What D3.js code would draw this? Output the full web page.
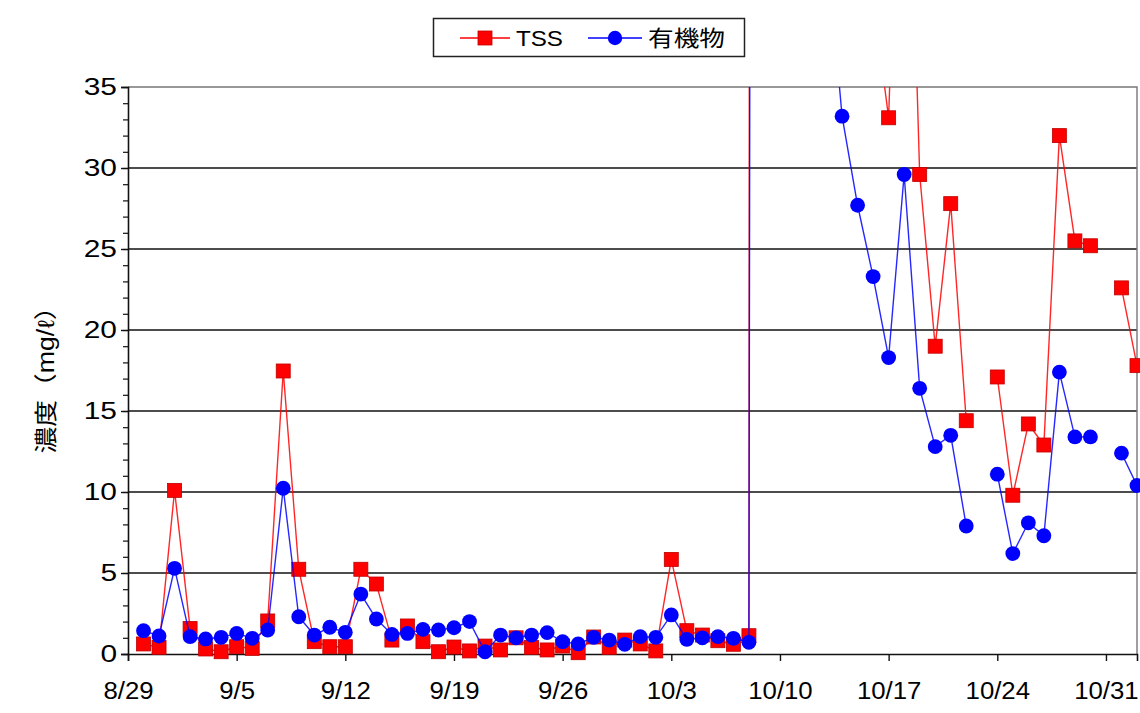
<!DOCTYPE html>
<html>
<head>
<meta charset="utf-8">
<script src="https://cdn.jsdelivr.net/npm/d3@7"></script>
<style>
  html, body { margin: 0; padding: 0; background: #fff; }
  svg { display: block; }
  text { font-family: "Liberation Sans", Arial, "Noto Sans CJK JP", sans-serif; fill: #000; }
</style>
</head>
<body>
<svg id="chart" width="1140" height="713"></svg>
<script>
// Daily sampling dates (month/day), 8/30 to 11/2
const dates = [
  "8/30","8/31","9/1","9/2","9/3","9/4","9/5","9/6","9/7","9/8",
  "9/9","9/10","9/11","9/12","9/13","9/14","9/15","9/16","9/17","9/18",
  "9/19","9/20","9/21","9/22","9/23","9/24","9/25","9/26","9/27","9/28",
  "9/29","9/30","10/1","10/2","10/3","10/4","10/5","10/6","10/7","10/8",
  "10/9","10/10","10/11","10/12","10/13","10/14","10/15","10/16","10/17","10/18",
  "10/19","10/20","10/21","10/22","10/23","10/24","10/25","10/26","10/27","10/28",
  "10/29","10/30","10/31","11/1","11/2"
];

// TSS concentration (mg/l); null = no sample
const tss = [
  0.62, 0.41, 10.1, 1.58, 0.31, 0.14, 0.45, 0.35, 2.04, 17.47,
  5.23, 0.76, 0.45, 0.45, 5.23, 4.32, 0.86, 1.73, 0.76, 0.14,
  0.43, 0.19, 0.49, 0.25, 1.0, 0.41, 0.25, 0.49, 0.08, 1.05,
  0.41, 0.86, 0.62, 0.19, 5.84, 1.44, 1.17, 0.82, 0.6, 1.13,
  1450, 820, 460, 240, 130, 85, 55, 40.5, 33.1, 62,
  29.6, 19.0, 27.8, 14.4, null, 17.1, 9.8, 14.2, 12.9, 32.0,
  25.5, 25.2, null, 22.6, 17.8
];

// Organic matter concentration (mg/l); null = no sample
const organic = [
  1.44, 1.11, 5.29, 1.07, 0.93, 1.03, 1.27, 0.97, 1.48, 10.23,
  2.3, 1.17, 1.65, 1.34, 3.7, 2.16, 1.21, 1.27, 1.52, 1.48,
  1.62, 2.0, 0.14, 1.17, 1.0, 1.17, 1.32, 0.76, 0.62, 1.03,
  0.86, 0.6, 1.07, 1.03, 2.41, 0.9, 1.0, 1.07, 0.97, 0.72,
  620, 310, 150, 80, 44, 33.2, 27.7, 23.3, 18.3, 29.6,
  16.4, 12.8, 13.5, 7.9, null, 11.1, 6.2, 8.1, 7.3, 17.4,
  13.4, 13.4, null, 12.4, 10.4
];

// Axis ticks
const xTickLabels = ["8/29","9/5","9/12","9/19","9/26","10/3","10/10","10/17","10/24","10/31"];
const yTicks = [0, 5, 10, 15, 20, 25, 30, 35];

const seriesNames = ["TSS", "有機物"];
const yTitle = "濃度（mg/ℓ）";

const YEAR = 2004;
const parseDay = s => { const [m, d] = s.split("/").map(Number); return new Date(YEAR, m - 1, d); };

const svg = d3.select("#chart");
const plotL = 128, plotR = 1137, plotT = 87, plotB = 654;
const labelColor = "#2a2a2a";

// x: date scale, 8/29 to 11/2
const x = d3.scaleTime()
  .domain([parseDay("8/29"), parseDay("11/2")])
  .range([plotL, plotR]);
const y = d3.scaleLinear().domain([0, 35]).range([plotB, plotT]);

// stretch text horizontally
function stretch(sel, f) {
  sel.each(function () {
    const w = this.getComputedTextLength();
    d3.select(this).attr("textLength", w * f).attr("lengthAdjust", "spacingAndGlyphs");
  });
}

// Horizontal grid lines
svg.append("g")
  .selectAll("line")
  .data(yTicks.filter(v => v > 0 && v < 35))
  .join("line")
  .attr("x1", plotL).attr("x2", plotR)
  .attr("y1", d => y(d)).attr("y2", d => y(d))
  .attr("stroke", "#111").attr("stroke-width", 1.4);

// Plot frame (top and right)
svg.append("path")
  .attr("d", `M${plotL},${plotT}H${plotR}V${plotB}`)
  .attr("fill", "none").attr("stroke", "#777").attr("stroke-width", 1.4);

// Y axis: minor ticks every 1, labelled major ticks every 5
const yMinor = d3.axisLeft(y).tickValues(d3.range(0, 36, 1)).tickSize(5).tickFormat("");
svg.append("g").attr("transform", `translate(${plotL},0)`).call(yMinor)
  .call(g => g.select(".domain").remove())
  .call(g => g.selectAll("line").attr("stroke", "#111").attr("stroke-width", 1.2));

const yAxis = d3.axisLeft(y).tickValues(yTicks).tickSize(7).tickPadding(4);
const gy = svg.append("g").attr("transform", `translate(${plotL},0)`).call(yAxis);
gy.select(".domain").attr("stroke", "#111").attr("stroke-width", 1.6);
gy.selectAll("line").attr("stroke", "#111").attr("stroke-width", 1.4);
gy.selectAll("text").attr("font-size", 23).attr("fill", labelColor)
  .attr("font-family", "'Liberation Sans', Arial, sans-serif");
stretch(gy.selectAll("text"), 1.3);

// X axis: weekly ticks
const xAxis = d3.axisBottom(x)
  .tickValues(xTickLabels.map(parseDay))
  .tickFormat(d => `${d.getMonth() + 1}/${d.getDate()}`)
  .tickSize(7).tickPadding(22);
const gx = svg.append("g").attr("transform", `translate(0,${plotB})`).call(xAxis);
gx.select(".domain").attr("stroke", "#111").attr("stroke-width", 1.6);
gx.selectAll("line").attr("stroke", "#111").attr("stroke-width", 1.4);
gx.selectAll("text").attr("font-size", 23).attr("fill", labelColor)
  .attr("font-family", "'Liberation Sans', Arial, sans-serif");
stretch(gx.selectAll("text"), 1.12);

// Y axis title
const yt = svg.append("text")
  .attr("transform", `translate(54,${(plotT + plotB) / 2 + 3}) rotate(-90)`)
  .attr("text-anchor", "middle")
  .attr("font-size", 23)
  .attr("fill", labelColor)
  .attr("font-family", "'Noto Sans CJK JP', sans-serif")
  .text(yTitle);
yt.attr("textLength", 160).attr("lengthAdjust", "spacingAndGlyphs");

// Clip for lines
svg.append("clipPath").attr("id", "plotClip")
  .append("rect").attr("x", plotL).attr("y", plotT).attr("width", plotR - plotL).attr("height", plotB - plotT);

const rows = dates.map((d, i) => ({ date: parseDay(d), tss: tss[i], org: organic[i] }));

const series = [
  { key: "tss", color: "#ff0000", shape: "square" },
  { key: "org", color: "#0000ff", shape: "circle" }
];

series.forEach(s => {
  const line = d3.line()
    .defined(d => d[s.key] != null)
    .x(d => x(d.date))
    .y(d => y(d[s.key]));
  svg.append("path")
    .datum(rows)
    .attr("clip-path", "url(#plotClip)")
    .attr("d", line)
    .attr("fill", "none")
    .attr("stroke", s.color)
    .attr("stroke-width", 1.4)
    .attr("stroke-opacity", 0.85);

  const pts = rows.filter(d => d[s.key] != null && d[s.key] <= 35);
  if (s.shape === "square") {
    svg.append("g").selectAll("rect").data(pts).join("rect")
      .attr("x", d => x(d.date) - 7).attr("y", d => y(d[s.key]) - 7)
      .attr("width", 14).attr("height", 14)
      .attr("fill", s.color).attr("stroke", "#c00000").attr("stroke-width", 0.8);
  } else {
    svg.append("g").selectAll("circle").data(pts).join("circle")
      .attr("cx", d => x(d.date)).attr("cy", d => y(d[s.key]))
      .attr("r", 7.4)
      .attr("fill", s.color);
  }
});

// Legend
const lg = svg.append("g");
lg.append("rect").attr("x", 433.5).attr("y", 18.5).attr("width", 311).attr("height", 38)
  .attr("fill", "#fff").attr("stroke", "#222").attr("stroke-width", 1.5);
const legendItems = [
  { name: seriesNames[0], color: "#ff0000", shape: "square", x0: 460, x1: 510, tx: 516, len: 47 },
  { name: seriesNames[1], color: "#0000ff", shape: "circle", x0: 588, x1: 642, tx: 648, len: 77 }
];
legendItems.forEach(it => {
  const cy = 38;
  lg.append("line").attr("x1", it.x0).attr("x2", it.x1).attr("y1", cy).attr("y2", cy)
    .attr("stroke", it.color).attr("stroke-width", 1.4);
  const cx = (it.x0 + it.x1) / 2;
  if (it.shape === "square") {
    lg.append("rect").attr("x", cx - 7).attr("y", cy - 7).attr("width", 14).attr("height", 14)
      .attr("fill", it.color).attr("stroke", "#c00000").attr("stroke-width", 0.8);
  } else {
    lg.append("circle").attr("cx", cx).attr("cy", cy).attr("r", 7.2).attr("fill", it.color);
  }
  lg.append("text").attr("x", it.tx).attr("y", cy + 8)
    .attr("font-size", 22).attr("fill", labelColor)
    .attr("font-family", "'Liberation Sans', 'Noto Sans CJK JP', sans-serif")
    .attr("textLength", it.len).attr("lengthAdjust", "spacingAndGlyphs")
    .text(it.name);
});
</script>
</body>
</html>
